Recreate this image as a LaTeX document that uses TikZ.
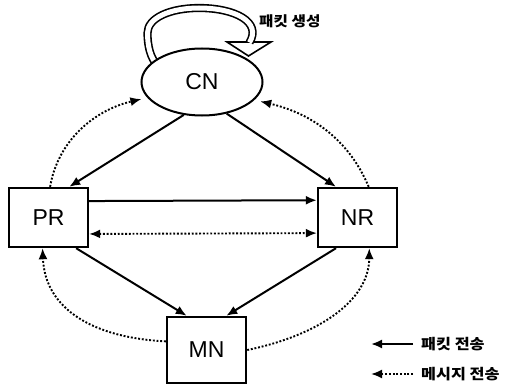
\documentclass[tikz,border=0pt]{standalone}
\usepackage{fontspec}
\setmainfont{Liberation Sans}
\newfontfamily\kr[FakeStretch=1.12]{Noto Sans CJK KR}
\usetikzlibrary{arrows.meta,shapes.geometric}
\begin{document}
\begin{tikzpicture}[x=1pt,y=-1pt,
  box/.style={draw, line width=2.4pt, minimum width=79pt, minimum height=59pt, inner sep=0pt, font=\fontsize{23}{23}\selectfont},
  tip/.style={-{Latex[length=11pt,width=9pt]}},
  pkt/.style={line width=2pt, tip},
  msg/.style={line width=1.9pt, dash pattern=on 1.9pt off 1.8pt, tip},
  lbl/.style={font=\kr\bfseries\fontsize{14}{14}\selectfont, inner sep=0pt},
  leg/.style={font=\kr\bfseries\fontsize{14.5}{14.5}\selectfont, inner sep=0pt}]
\useasboundingbox (0,0) rectangle (505,385);
% self-loop block arrow
\draw[line width=1.6pt, fill=white, line join=miter] (227,42) -- (271,42) -- (248.5,56) -- cycle;
\draw[line width=1.6pt, double=white, double distance=5pt]
  (158,66) .. controls (150,58) and (147.5,45) .. (147.5,33)
  .. controls (147.5,18) and (170,8) .. (199,8)
  .. controls (235,8) and (262,22) .. (249.5,42.5);
\node[ellipse, draw, fill=white, line width=2pt, minimum width=121pt, minimum height=67pt, inner sep=0pt, font=\fontsize{23}{23}\selectfont] (CN) at (202,82) {CN};
\node[lbl, anchor=west] (gen) at (259,21) {패킷 생성};
\node[box] (PR) at (48.5,217.5) {PR};
\node[box] (NR) at (357.5,217.5) {NR};
\node[box, minimum height=66pt] (MN) at (206.5,350) {MN};
% packet transfers
\draw[pkt] (CN.241) -- (PR.56);
\draw[pkt] (CN.308) -- (NR.125);
\draw[pkt] (PR.22.7) -- (NR.157.3);
\draw[pkt] (PR.312) -- (MN.120.6);
\draw[pkt] (NR.235.2) -- (MN.60.7);
% message transfers
\draw[msg, {Latex[length=11pt,width=9pt]}-{Latex[length=11pt,width=9pt]}] (PR.338.6) -- (NR.201.4);
\draw[msg, shorten >=6pt] (PR.87) .. controls (58,140) and (95,110) .. (CN.196);
\draw[msg, shorten >=6pt] (NR.70) .. controls (350,142) and (314,114) .. (CN.341);
\draw[msg] (MN.168) .. controls (95,338) and (45,310) .. (PR.259);
\draw[msg] (MN.east) .. controls (320,335) and (369,300) .. (NR.291);
% legend
\node[leg, anchor=west] (L1) at (421,344) {패킷 전송};
\node[leg, anchor=west] (L2) at (421,374) {메시지 전송};
\coordinate (L1b) at (413,344);
\coordinate (L1a) at (371,344);
\coordinate (L2b) at (413,374);
\coordinate (L2a) at (371,374);
\draw[pkt] (L1b) -- (L1a);
\draw[msg] (L2b) -- (L2a);
\end{tikzpicture}
\end{document}
